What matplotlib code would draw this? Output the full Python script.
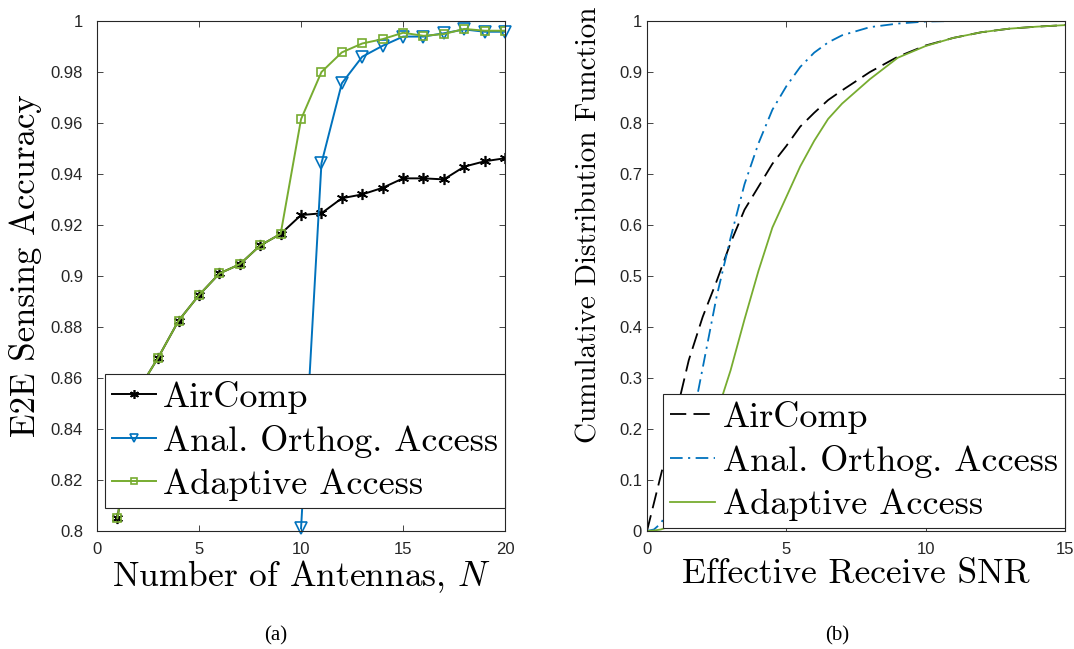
import matplotlib
matplotlib.use('Agg')
from matplotlib import pyplot as plt
from matplotlib.ticker import FuncFormatter

# (a) accuracy vs number of antennas
antennas = list(range(1, 21))
aircomp_acc = [0.805, 0.855, 0.868, 0.8825, 0.8925, 0.901, 0.9046, 0.912, 0.9165, 0.9239,
               0.9246, 0.9305, 0.932, 0.9346, 0.9383, 0.9383, 0.9379, 0.9429, 0.945, 0.9462]
orthog_n = list(range(10, 21))
orthog_acc = [0.801, 0.9442, 0.9756, 0.986, 0.9903, 0.9939, 0.9939, 0.9952, 0.9967, 0.9958, 0.9958]
adaptive_acc = [0.805, 0.855, 0.868, 0.8825, 0.8925, 0.901, 0.9046, 0.912, 0.9165, 0.9615,
                0.980, 0.9877, 0.9912, 0.9929, 0.9954, 0.9942, 0.9949, 0.9969, 0.9962, 0.9962]

# (b) CDF of effective receive SNR
snr = [0, 0.25, 0.5, 0.75, 1, 1.5, 2, 2.5, 3, 3.5, 4, 4.5, 5, 5.5, 6, 6.5, 7, 8, 9, 10, 11, 12, 13, 14, 15]
cdf_aircomp = [0, 0.055, 0.11, 0.165, 0.22, 0.335, 0.42, 0.49, 0.565, 0.63, 0.675, 0.72, 0.755,
               0.793, 0.82, 0.845, 0.864, 0.90, 0.93, 0.952, 0.967, 0.978, 0.985, 0.989, 0.992]
cdf_orthog = [0, 0.003, 0.015, 0.04, 0.075, 0.18, 0.32, 0.46, 0.575, 0.68, 0.76, 0.826, 0.872,
              0.91, 0.938, 0.958, 0.972, 0.988, 0.995, 0.999, 1, 1, 1, 1, 1]
cdf_adaptive = [0, 0.001, 0.003, 0.008, 0.03, 0.1, 0.165, 0.23, 0.315, 0.415, 0.51, 0.595, 0.655,
                0.715, 0.765, 0.808, 0.838, 0.886, 0.928, 0.951, 0.967, 0.978, 0.985, 0.989, 0.992]

labels = ['AirComp', 'Anal. Orthog. Access', 'Adaptive Access']
BLUE = '#0072BD'
GREEN = '#77AC30'
CM = 'cmr10'

plt.rcParams['font.family'] = 'sans-serif'
plt.rcParams['font.sans-serif'] = ['Liberation Sans', 'Arial', 'DejaVu Sans']
plt.rcParams['font.serif'] = ['Liberation Serif', 'Times New Roman', 'DejaVu Serif']
plt.rcParams['mathtext.fontset'] = 'cm'

fig = plt.figure(figsize=(10.74, 6.49), dpi=100)
ax1 = fig.add_axes([0.0903, 0.1818, 0.380, 0.7858])
ax2 = fig.add_axes([0.6024, 0.1818, 0.3892, 0.7858])

fmt = FuncFormatter(lambda v, p: '%g' % round(v, 4))


def style_axes(ax, ypad):
    for s in ax.spines.values():
        s.set_color('#262626')
        s.set_linewidth(0.8)
    ax.tick_params(direction='in', top=True, right=True, length=4, width=0.6,
                   color='#262626', labelsize=12, labelcolor='#262626')
    ax.tick_params(axis='x', pad=8)
    ax.tick_params(axis='y', pad=ypad)
    ax.xaxis.set_major_formatter(fmt)
    ax.yaxis.set_major_formatter(fmt)


# panel (a)
ax1.plot(antennas, aircomp_acc, color='black', lw=1.4, marker=(6, 2, 0), ms=8, mew=1.2, label=labels[0])
ax1.plot(orthog_n, orthog_acc, color=BLUE, lw=1.4, marker='v', ms=8, mfc='none', mew=1.2,
         label=labels[1], clip_on=False)
ax1.plot(antennas, adaptive_acc, color=GREEN, lw=1.4, marker='s', ms=5.5, mfc='none', mew=1.2,
         label=labels[2])
ax1.set_xlim(0, 20)
ax1.set_ylim(0.8, 1)
ax1.set_xticks([0, 5, 10, 15, 20])
ax1.set_yticks([0.8 + 0.02 * i for i in range(11)])
style_axes(ax1, 10)
ax1.set_xlabel(r'Number of Antennas, $N$', fontfamily=CM, fontsize=25.5, labelpad=1)
ax1.set_ylabel('E2E Sensing Accuracy', fontfamily=CM, fontsize=25, labelpad=6)
ax1.yaxis.label.set_y(0.52)
leg1 = ax1.legend(loc='lower left', bbox_to_anchor=(0.0196, 0.0445), borderaxespad=0,
                  prop={'family': CM, 'size': 26}, fancybox=False, framealpha=1,
                  edgecolor='#262626', handlelength=1.2, handletextpad=0.2,
                  borderpad=0.2, labelspacing=0.3, markerscale=0.8)
leg1.get_frame().set_linewidth(0.8)

# panel (b)
ax2.plot(snr, cdf_aircomp, color='black', lw=1.3, dashes=(9, 4), label=labels[0])
ax2.plot(snr, cdf_orthog, color=BLUE, lw=1.3, dashes=(7, 3, 1.2, 3), label=labels[1])
ax2.plot(snr, cdf_adaptive, color=GREEN, lw=1.3, label=labels[2])
ax2.set_xlim(0, 15)
ax2.set_ylim(0, 1)
ax2.set_xticks([0, 5, 10, 15])
ax2.set_yticks([0.1 * i for i in range(11)])
style_axes(ax2, 3.5)
ax2.set_xlabel('Effective Receive SNR', fontfamily=CM, fontsize=25.5, labelpad=1)
ax2.set_ylabel('Cumulative Distribution Function', fontfamily=CM, fontsize=21, labelpad=12)
ax2.yaxis.label.set_y(0.6)
leg2 = ax2.legend(loc='lower right', bbox_to_anchor=(1, 0.005), borderaxespad=0,
                  prop={'family': CM, 'size': 26}, fancybox=False, framealpha=1,
                  edgecolor='#262626', handlelength=1.25, handletextpad=0.2,
                  borderpad=0.2, labelspacing=0.3)
leg2.get_frame().set_linewidth(0.8)

fig.text(276 / 1074, 1 - 636 / 649, '(a)', family='serif', fontsize=15,
         ha='center', va='center')
fig.text(837 / 1074, 1 - 636 / 649, '(b)', family='serif', fontsize=15,
         ha='center', va='center')

fig.savefig('out.png', dpi=100)
